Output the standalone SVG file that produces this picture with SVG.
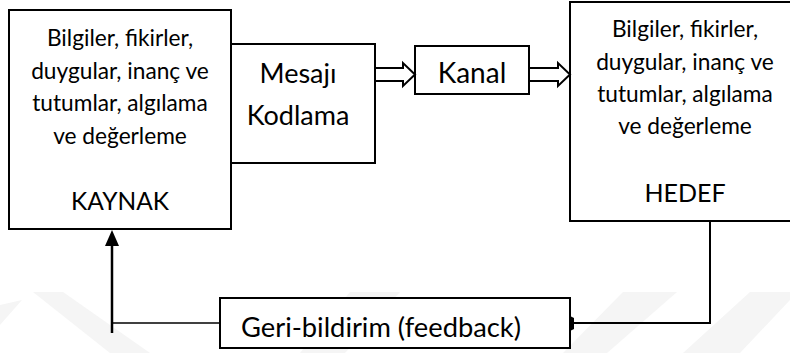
<svg xmlns="http://www.w3.org/2000/svg" width="790" height="353" viewBox="0 0 790 353">
<style>
.box{fill:#fff;stroke:#000;stroke-width:2}
.t{font-family:Lato,"Open Sans","Liberation Sans",sans-serif;fill:#000;text-anchor:middle}
.s{font-size:22.7px}
.m{font-size:27px}
.ln{fill:none;stroke:#000;stroke-width:2}
.wm{fill:#f5f5f5}
.dbl{fill:#fff;stroke:#000;stroke-width:2;stroke-linejoin:miter}
</style>
<rect width="790" height="353" fill="#fff"/>
<g id="watermark">
<polygon class="wm" points="33,292 63,292 150,353 110,353"/>
<polygon class="wm" points="0,305 22,300 0,325"/>
<polygon class="wm" points="350,292 400,292 345,353 300,353"/>
<polygon class="wm" points="623,292 677,292 607,353 563,353"/>
<polygon class="wm" points="750,292 790,292 790,300 740,353 683,353"/>
</g>
<g id="kaynak">
<rect class="box" x="9" y="10" width="222" height="219"/>
<text class="t s" x="120" y="46">Bilgiler, fikirler,</text>
<text class="t s" x="120" y="79">duygular, inanç ve</text>
<text class="t s" x="120" y="111">tutumlar, algılama</text>
<text class="t s" x="120" y="144">ve değerleme</text>
<text class="t" style="font-size:24.5px" x="120" y="210">KAYNAK</text>
</g>
<g id="kodlama">
<rect class="box" x="231" y="44" width="144" height="119"/>
<text class="t m" x="298" y="83">Mesajı</text>
<text class="t m" x="298" y="125">Kodlama</text>
</g>
<g id="kanal">
<rect class="box" x="415" y="46" width="114" height="48"/>
<text class="t" style="font-size:28px" x="472" y="83">Kanal</text>
</g>
<g id="hedef">
<path class="ln" d="M792,2 H570 V221 H792"/>
<text class="t s" x="685" y="37">Bilgiler, fikirler,</text>
<text class="t s" x="685" y="70">duygular, inanç ve</text>
<text class="t s" x="685" y="102">tutumlar, algılama</text>
<text class="t s" x="685" y="134">ve değerleme</text>
<text class="t" style="font-size:25px" x="685" y="202">HEDEF</text>
</g>
<g id="feedback">
<rect class="box" x="220" y="298" width="350" height="50"/>
<text class="t" style="font-size:27.3px" x="381" y="337">Geri-bildirim (feedback)</text>
</g>
<g id="connectors">
<polygon class="dbl" points="375,68 403,68 403,63 415,74.5 403,86 403,81 375,81"/>
<polygon class="dbl" points="529,68 558,68 558,63 570,74.5 558,86 558,81 529,81"/>
<path class="ln" d="M710,221 V323 H574"/>
<polygon points="570,316 574,318 574,329 570,331" fill="#000"/>
<path class="ln" style="stroke-width:1.6" d="M220,323 H112"/>
<path class="ln" style="stroke-width:2.5" d="M112,333 V244"/>
<polygon points="112,230 105,246 119,246" fill="#000"/>
</g>
</svg>
